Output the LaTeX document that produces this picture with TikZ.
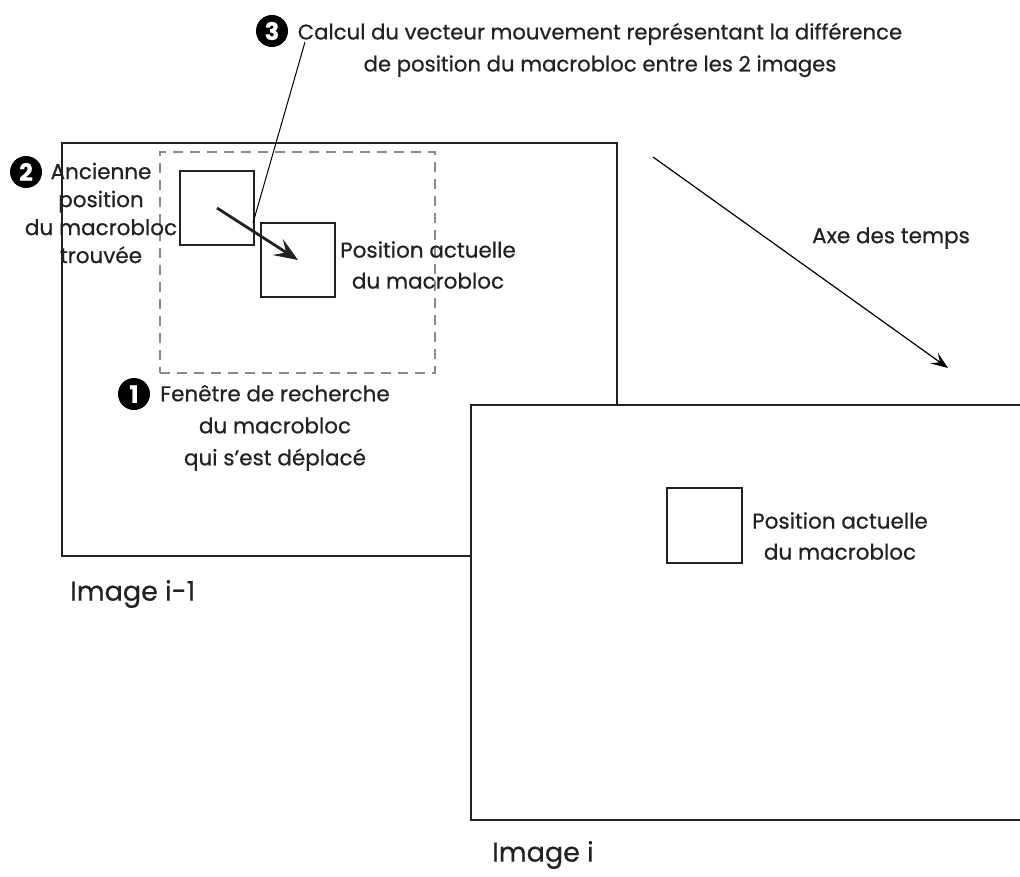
\documentclass[tikz,border=0pt]{standalone}
\usepackage{fontspec}
\setmainfont{Poppins}[FakeBold=0.6]
\usetikzlibrary{arrows.meta}
\definecolor{ink}{HTML}{222222}
\definecolor{dashgray}{HTML}{8A8A8A}
\definecolor{thin}{HTML}{444444}
\begin{document}
\begin{tikzpicture}[x=1pt,y=-1pt,
  frame/.style={draw=ink, line width=1.7pt, inner sep=0pt},
  block/.style={draw=ink, line width=1.4pt, inner sep=0pt, minimum width=74pt, minimum height=74pt},
  window/.style={draw=dashgray, line width=1.3pt, dash pattern=on 10pt off 7pt, inner sep=0pt},
  txt/.style={font=\fontsize{21.5}{31}\selectfont, align=center, text=ink, inner sep=0pt},
  num/.style={circle, fill=black, text=white, minimum size=32pt, inner sep=0pt,
    font=\fontsize{24}{24}\selectfont\bfseries},
  tip/.style={-{Stealth[length=17pt, width=13pt, inset=7pt]}},
  bigtip/.style={-{Stealth[length=24pt, width=19pt, inset=10pt]}},
]
\useasboundingbox (0,0) rectangle (1020,876);

% previous picture, search window and the two block positions
\node[frame, minimum width=555pt, minimum height=413pt] (prev) at (339.5,349.5) {};
\node[window, minimum width=275pt, minimum height=221pt] (win) at (297.5,262.5) {};
\node[block] (old) at (217,208) {};
\node[block] (cur) at (298,260) {};

% current picture drawn over the previous one
\node[frame, fill=white, minimum width=551pt, minimum height=415pt] (next) at (746.5,612.5) {};
\node[block, minimum width=75pt, minimum height=75pt] (curnext) at (704.5,525.5) {};

% motion vector
\draw[ink, line width=2.8pt, bigtip] (old.center) -- (cur.center);

% leader line for step 3
\coordinate (leadtop) at (305,42);
\coordinate (leadend) at (253,223);
\draw[thin, line width=1pt] (leadtop) -- (leadend);

% time axis
\coordinate (t0) at (653,157);
\coordinate (t1) at (948,368);
\draw[thin, line width=1.2pt, tip] (t0) -- (t1);
\node[txt] (axe) at (891,238) {Axe des temps};

% step labels
\node[num] (n3) at (272,31) {3};
\node[txt, font=\fontsize{21.2}{32}\selectfont] (calc) at (600,50)
  {Calcul du vecteur mouvement représentant la différence\\de position du macrobloc entre les 2 images};

\node[num] (n2) at (26,172) {2};
\node[txt, font=\fontsize{21.5}{28}\selectfont] (anc) at (101,213)
  {Ancienne\\position\\du macrobloc\\trouvée};

\node[txt] (posprev) at (428,265) {Position actuelle\\du macrobloc};

\node[num] (n1) at (134,394) {1};
\node[txt, font=\fontsize{21.5}{32}\selectfont] (fen) at (275,428)
  {Fenêtre de recherche\\du macrobloc\\qui s’est déplacé};

\node[txt] (posnext) at (840,536) {Position actuelle\\du macrobloc};

% picture captions
\node[txt, font=\fontsize{27}{27}\selectfont, anchor=west] (capprev) at (70,594) {Image i-1};
\node[txt, font=\fontsize{27}{27}\selectfont, anchor=west] (capnext) at (492,855) {Image i};
\end{tikzpicture}
\end{document}
